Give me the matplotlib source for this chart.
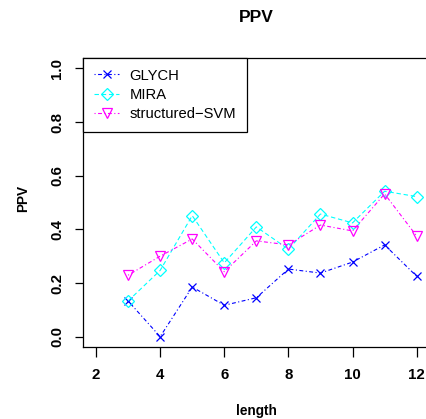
import matplotlib
matplotlib.use('Agg')
import matplotlib.pyplot as plt

plt.rcParams['font.family'] = ['Liberation Sans', 'DejaVu Sans']

# sequence length vs PPV
length = [3, 4, 5, 6, 7, 8, 9, 10, 11, 12]
glych = [0.133, 0.0, 0.185, 0.117, 0.145, 0.252, 0.237, 0.278, 0.342, 0.225]
mira = [0.133, 0.247, 0.451, 0.275, 0.409, 0.326, 0.457, 0.424, 0.542, 0.522]
svm = [0.229, 0.300, 0.364, 0.242, 0.357, 0.342, 0.416, 0.394, 0.532, 0.375]

xticks = [2, 4, 6, 8, 10, 12]
yticks = [0.0, 0.2, 0.4, 0.6, 0.8, 1.0]
ytick_labels = ['0.0', '0.2', '0.4', '0.6', '0.8', '1.0']

W, H = 426, 419
fig = plt.figure(figsize=(W / 100, H / 100), dpi=100)
# plot region in pixels (the right edge runs past the picture, as in the reference)
left, right, top, bottom = 83.2, 429.5, 57.6, 347.4
ax = fig.add_axes([left / W, (H - bottom) / H, (right - left) / W, (bottom - top) / H])

dotdash = (0, (1, 2.2, 3.5, 2.2))
dashed = (0, (4, 2.5))
ax.plot(length, glych, color='#0000ff', marker='x', ms=6, mew=0.9,
        lw=0.8, linestyle=dotdash, label='GLYCH')
ax.plot(length, mira, color='#00ffff', marker='D', ms=6.5, mfc='none', mew=0.9,
        lw=0.8, linestyle=dashed, label='MIRA')
ax.plot(length, svm, color='#ff00ff', marker='v', ms=7.2, mfc='none', mew=0.9,
        lw=0.8, linestyle=dotdash, label='structured\u2212SVM')

ax.set_xlim(1.6, 12.4)
ax.set_ylim(-0.04, 1.04)
ax.set_xticks(xticks)
ax.set_xticklabels([str(t) for t in xticks], fontsize=10.8, fontweight='bold')
ax.set_yticks(yticks)
ax.set_yticklabels(ytick_labels, fontsize=10.8, fontweight='bold',
                   rotation=90, va='center')
ax.tick_params(axis='x', length=7.5, width=0.9, pad=7.5, direction='out')
ax.tick_params(axis='y', length=5.5, width=0.9, pad=8, direction='out')
for s in ax.spines.values():
    s.set_linewidth(0.9)

leg = ax.legend(loc='upper left', bbox_to_anchor=(0, 1), borderaxespad=0,
                fontsize=10.6, fancybox=False, framealpha=1, edgecolor='black',
                handlelength=1.7, handletextpad=0.7, labelspacing=0.36,
                borderpad=0.75)
leg.get_frame().set_linewidth(0.9)

fig.text((left + right) / 2 / W, 1 - 17 / H, 'PPV', ha='center', va='center',
         fontsize=12.5, fontweight='bold')
fig.text((left + right) / 2 / W, 1 - 411 / H, 'length', ha='center', va='center',
         fontsize=9.8, fontweight='bold')
fig.text(23 / W, 1 - 198 / H, 'PPV', ha='center', va='center', rotation=90,
         fontsize=9.8, fontweight='bold')

fig.savefig('out.png', dpi=100)
